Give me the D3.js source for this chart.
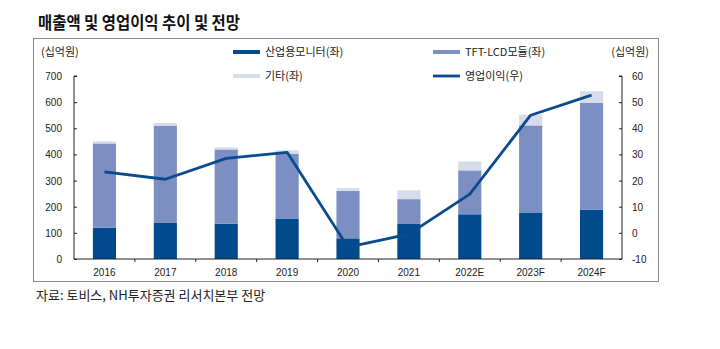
<!DOCTYPE html>
<html>
<head>
<meta charset="utf-8">
<script src="https://cdn.jsdelivr.net/npm/d3@7"></script>
<style>
  body { margin: 0; background: #fff; }
  text { font-family: "Liberation Sans", Arial, sans-serif; fill: #222; }
  .kr { font-family: "Noto Sans CJK KR", "Noto Sans", sans-serif; }
</style>
</head>
<body>
<svg id="chart" width="720" height="349"></svg>
<script>
// data (십억원)
var years = ['2016', '2017', '2018', '2019', '2020', '2021', '2022E', '2023F', '2024F'];
var industrial = [120, 138, 135, 155, 79, 134, 171, 178, 188];
var tftLcd = [322, 372, 284, 248, 181, 95, 168, 333, 409];
var others = [8, 10, 8, 13, 11, 34, 34, 41, 45];
var opProfit = [23.3, 20.5, 28.5, 30.8, -5.5, -0.5, 14.8, 45.0, 52.7];
var leftTicks = [0, 100, 200, 300, 400, 500, 600, 700];
var rightTicks = [-10, 0, 10, 20, 30, 40, 50, 60];

var seriesNames = ['산업용모니터(좌)', 'TFT-LCD모듈(좌)', '기타(좌)', '영업이익(우)'];
var colors = ['#004a8d', '#7b8fc2', '#d6dde8', '#0b4a8c'];

var svg = d3.select('#chart');

var plotLeft = 74, plotRight = 622, plotTop = 76, plotBottom = 259;

var x = d3.scaleBand().domain(years).range([plotLeft, plotRight]).paddingInner(0.62).paddingOuter(0.31);
var yL = d3.scaleLinear().domain([0, 700]).range([plotBottom, plotTop]);
var yR = d3.scaleLinear().domain([-10, 60]).range([plotBottom, plotTop]);

// frame
svg.append('rect')
  .attr('x', 33.5).attr('y', 38.5)
  .attr('width', 625).attr('height', 243)
  .attr('fill', 'none')
  .attr('stroke', '#8a8a8a')
  .attr('stroke-width', 1);

// title
svg.append('text')
  .attr('class', 'kr')
  .attr('x', 38).attr('y', 29)
  .attr('textLength', 202)
  .attr('lengthAdjust', 'spacingAndGlyphs')
  .style('font-size', '17px')
  .style('font-weight', 700)
  .style('fill', '#111')
  .text('매출액 및 영업이익 추이 및 전망');

// stacked bars
var rows = years.map((d, i) => ({ year: d, a: industrial[i], b: tftLcd[i], c: others[i] }));
var stack = d3.stack().keys(['a', 'b', 'c'])(rows);

svg.append('g')
  .selectAll('g')
  .data(stack)
  .enter()
  .append('g')
  .attr('fill', (d, i) => colors[i])
  .selectAll('rect')
  .data(d => d)
  .enter()
  .append('rect')
  .attr('x', d => x(d.data.year))
  .attr('width', x.bandwidth())
  .attr('y', d => yL(d[1]))
  .attr('height', d => yL(d[0]) - yL(d[1]));

// line
var line = d3.line()
  .x((d, i) => x(years[i]) + x.bandwidth() / 2)
  .y(d => yR(d));

svg.append('path')
  .datum(opProfit)
  .attr('d', line)
  .attr('fill', 'none')
  .attr('stroke', colors[3])
  .attr('stroke-width', 2.8)
  .attr('stroke-linejoin', 'round');

// axes
var leftAxis = svg.append('g')
  .attr('transform', 'translate(' + plotLeft + ',0)')
  .call(d3.axisRight(yL).tickValues(leftTicks).tickSize(3).tickFormat(''));
leftAxis.select('.domain').attr('d', 'M3,' + plotTop + 'H0V' + plotBottom);

var rightAxis = svg.append('g')
  .attr('transform', 'translate(' + plotRight + ',0)')
  .call(d3.axisLeft(yR).tickValues(rightTicks).tickSize(3).tickFormat(''));
rightAxis.select('.domain').attr('d', 'M-3,' + plotTop + 'H0V' + plotBottom);

svg.selectAll('.domain, .tick line').attr('stroke', '#222');

svg.append('g')
  .selectAll('text')
  .data(leftTicks)
  .enter()
  .append('text')
  .attr('x', 62)
  .attr('y', d => yL(d) + 4)
  .attr('text-anchor', 'end')
  .style('font-size', '10px')
  .text(d => d);

svg.append('g')
  .selectAll('text')
  .data(rightTicks)
  .enter()
  .append('text')
  .attr('x', 632)
  .attr('y', d => yR(d) + 4)
  .style('font-size', '10px')
  .text(d => d);

// bottom axis
svg.append('line')
  .attr('x1', plotLeft).attr('x2', plotRight)
  .attr('y1', plotBottom).attr('y2', plotBottom)
  .attr('stroke', '#222');

svg.append('g')
  .selectAll('line')
  .data(years.slice(0, -1))
  .enter()
  .append('line')
  .attr('x1', d => x(d) + x.bandwidth() / 2 + x.step() / 2)
  .attr('x2', d => x(d) + x.bandwidth() / 2 + x.step() / 2)
  .attr('y1', plotBottom).attr('y2', plotBottom + 3)
  .attr('stroke', '#222');

svg.append('g')
  .selectAll('text')
  .data(years)
  .enter()
  .append('text')
  .attr('x', d => x(d) + x.bandwidth() / 2)
  .attr('y', 276)
  .attr('text-anchor', 'middle')
  .style('font-size', '10px')
  .text(d => d);

// axis units
svg.append('text')
  .attr('class', 'kr')
  .attr('x', 41).attr('y', 56)
  .style('font-size', '11px')
  .text('(십억원)');

svg.append('text')
  .attr('class', 'kr')
  .attr('x', 649).attr('y', 56)
  .attr('text-anchor', 'end')
  .style('font-size', '11px')
  .text('(십억원)');

// legend
var legendItems = [
  { name: seriesNames[0], color: colors[0], lx: 233, ly: 52, type: 'bar' },
  { name: seriesNames[1], color: colors[1], lx: 433, ly: 52, type: 'bar' },
  { name: seriesNames[2], color: colors[2], lx: 233, ly: 76, type: 'bar' },
  { name: seriesNames[3], color: colors[3], lx: 433, ly: 76, type: 'line' }
];

var legend = svg.append('g')
  .selectAll('g')
  .data(legendItems)
  .enter()
  .append('g')
  .attr('transform', d => 'translate(' + d.lx + ',' + d.ly + ')');

legend.append('rect')
  .attr('x', 0).attr('y', d => d.type === 'bar' ? -2 : -1.4)
  .attr('width', 27)
  .attr('height', d => d.type === 'bar' ? 4 : 2.8)
  .attr('fill', d => d.color);

legend.append('text')
  .attr('class', 'kr')
  .attr('x', 32).attr('y', 4)
  .style('font-size', '11px')
  .text(d => d.name);

// source
svg.append('text')
  .attr('class', 'kr')
  .attr('x', 36).attr('y', 300)
  .style('font-size', '13px')
  .text('자료: 토비스, NH투자증권 리서치본부 전망');
</script>
</body>
</html>
